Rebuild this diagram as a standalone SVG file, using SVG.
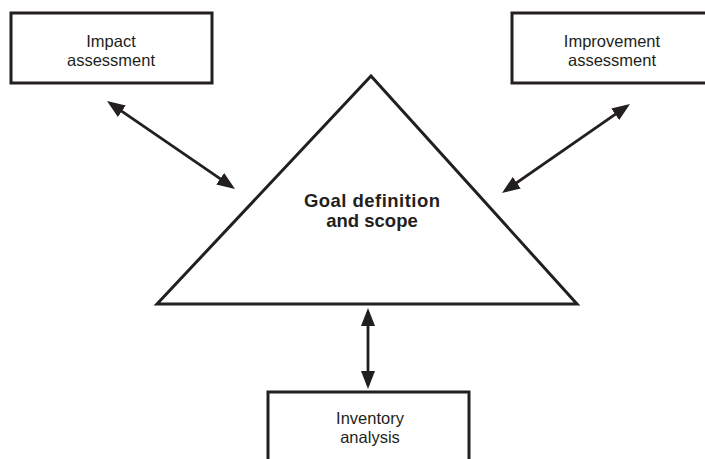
<svg xmlns="http://www.w3.org/2000/svg" width="705" height="459" viewBox="0 0 705 459">
<style>
.box{fill:#fff;stroke:#231f20;stroke-width:3}
.tri{fill:#fff;stroke:#231f20;stroke-width:3;stroke-linejoin:miter}
.lbl{font-family:"Liberation Sans",Arial,sans-serif;font-size:16.5px;fill:#231f20;text-anchor:middle}
.bold{font-family:"Liberation Sans",Arial,sans-serif;font-size:18.5px;font-weight:bold;fill:#231f20;text-anchor:middle}
.conn{stroke:#231f20;stroke-width:2.8;fill:none;marker-start:url(#ah);marker-end:url(#ah)}
</style>
<defs>
<marker id="ah" viewBox="0 0 18 14" markerWidth="18" markerHeight="14" refX="14" refY="7" markerUnits="userSpaceOnUse" orient="auto-start-reverse">
<path d="M0,0 L18,7 L0,14 z" fill="#231f20"/>
</marker>
</defs>
<rect width="705" height="459" fill="#fff"/>
<g id="goal">
<polygon class="tri" points="157,304 371,76 577,304"/>
<text class="bold" x="372" y="206.5" textLength="136" lengthAdjust="spacing">Goal definition</text>
<text class="bold" x="372" y="227">and scope</text>
</g>
<g id="impact">
<rect class="box" x="11" y="13" width="201" height="70"/>
<text class="lbl" x="111" y="47">Impact</text>
<text class="lbl" x="111" y="66">assessment</text>
</g>
<g id="improvement">
<rect class="box" x="512" y="13" width="200" height="70"/>
<text class="lbl" x="612" y="47">Improvement</text>
<text class="lbl" x="612" y="66">assessment</text>
</g>
<g id="inventory">
<rect class="box" x="268" y="392" width="201" height="80"/>
<text class="lbl" x="370" y="424">Inventory</text>
<text class="lbl" x="370" y="443">analysis</text>
</g>
<g id="connectors">
<line class="conn" x1="110.3" y1="103.3" x2="231.7" y2="186.7"/>
<line class="conn" x1="626.7" y1="106.3" x2="505.3" y2="190.7"/>
<line class="conn" x1="368" y1="312" x2="368" y2="385"/>
</g>
</svg>
